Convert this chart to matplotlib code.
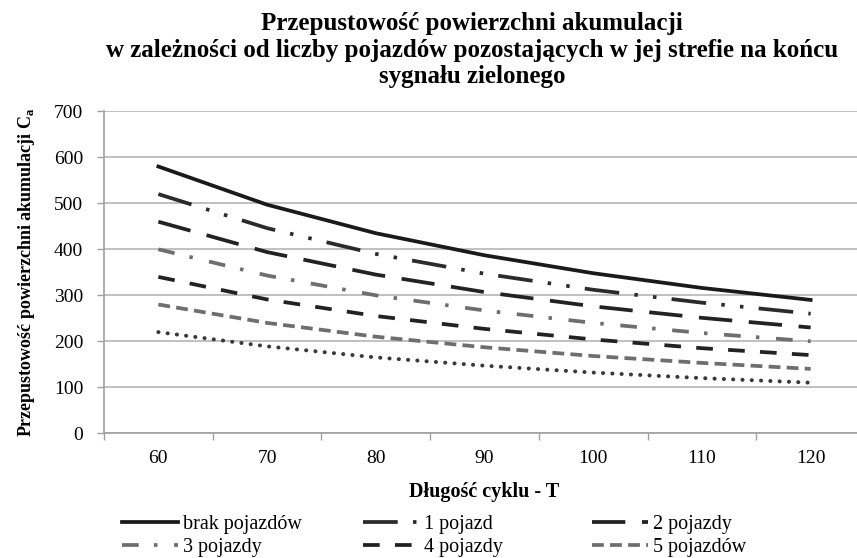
import numpy as np
import matplotlib
matplotlib.use("Agg")
import matplotlib.pyplot as plt

plt.rcParams['font.family'] = ['Liberation Serif', 'DejaVu Serif']
plt.rcParams['lines.scale_dashes'] = False

# cycle length T (categories)
cycle = ["60", "70", "80", "90", "100", "110", "120"]

# capacity of the accumulation area
brak = [580, 497, 435, 387, 348, 316, 290]
poj1 = [520, 446, 390, 347, 312, 284, 260]
poj2 = [460, 394, 345, 307, 276, 251, 230]
poj3 = [400, 343, 300, 267, 240, 218, 200]
poj4 = [340, 291, 255, 227, 204, 185, 170]
poj5 = [280, 240, 210, 187, 168, 153, 140]
poj6 = [220, 189, 165, 147, 132, 120, 110]

fig = plt.figure(figsize=(8.57, 5.58), dpi=100)
ax = fig.add_axes([104 / 857, 0.2235, 761 / 857, 0.577])

x = np.arange(len(cycle))
lw = 2.7
h0, = ax.plot(x, brak, color='#1a1a1a', lw=lw, label='brak pojazdów')
h1, = ax.plot(x, poj1, color='#2b2b2b', lw=lw, linestyle=(0, (25, 11, 2.5, 11, 2.5, 11)), label='1 pojazd')
h2, = ax.plot(x, poj2, color='#222222', lw=lw, linestyle=(0, (24, 12)), label='2 pojazdy')
h3, = ax.plot(x, poj3, color='#6e6e6e', lw=lw, linestyle=(0, (12, 11, 2.5, 12)), label='3 pojazdy')
h4, = ax.plot(x, poj4, color='#222222', lw=lw, linestyle=(0, (12, 11)), label='4 pojazdy')
h5, = ax.plot(x, poj5, color='#6e6e6e', lw=lw, linestyle=(0, (8.5, 4.5)), label='5 pojazdów')
ax.plot(x, poj6, color='#3a3a3a', lw=2.9, linestyle=(0, (0.1, 6.6)),
        dash_capstyle='round', label='_nolegend_')

ax.set_xlim(-0.5, len(cycle) - 0.5)
ax.set_ylim(0, 700)
ax.set_yticks(range(0, 701, 100))
ax.set_xticks(x)
ax.set_xticklabels(cycle)
ax.set_xticks(np.arange(-0.5, len(cycle), 1), minor=True)
ax.tick_params(axis='x', which='major', length=0, labelsize=14, pad=12)
ax.tick_params(axis='x', which='minor', length=5, color='#a0a0a0', width=1)
ax.tick_params(axis='y', length=5, color='#a0a0a0', width=1, labelsize=14, pad=10)
ax.grid(axis='y', color='#b5b5b5', lw=1.2)
ax.set_axisbelow(True)
for s in ['top', 'right']:
    ax.spines[s].set_visible(False)
for s in ['left', 'bottom']:
    ax.spines[s].set_color('#a0a0a0')
    ax.spines[s].set_linewidth(1.2)

ax.set_xlabel('Długość cyklu - T', fontsize=14.5, fontweight='bold', labelpad=11)
ax.set_ylabel('Przepustowość powierzchni akumulacji C$_\\mathregular{a}$',
              fontsize=13, fontweight='bold', labelpad=12)

fig.text(0.551, 0.978, 'Przepustowość powierzchni akumulacji\n'
         'w zależności od liczby pojazdów pozostających w jej strefie na końcu\n'
         'sygnału zielonego', ha='center', va='top', fontsize=18,
         fontweight='bold', linespacing=1.2)

# legend: three columns placed separately
cols = [([h0, h3], 122), ([h1, h4], 363), ([h2, h5], 592)]
for hs, px in cols:
    fig.legend(handles=hs, loc='center left', bbox_to_anchor=(px / 857, 1 - 536 / 558),
               fontsize=14.5, frameon=False, handlelength=2.8, handletextpad=0.25,
               labelspacing=0.15, borderpad=0, borderaxespad=0)

fig.savefig('out.png', dpi=100)
